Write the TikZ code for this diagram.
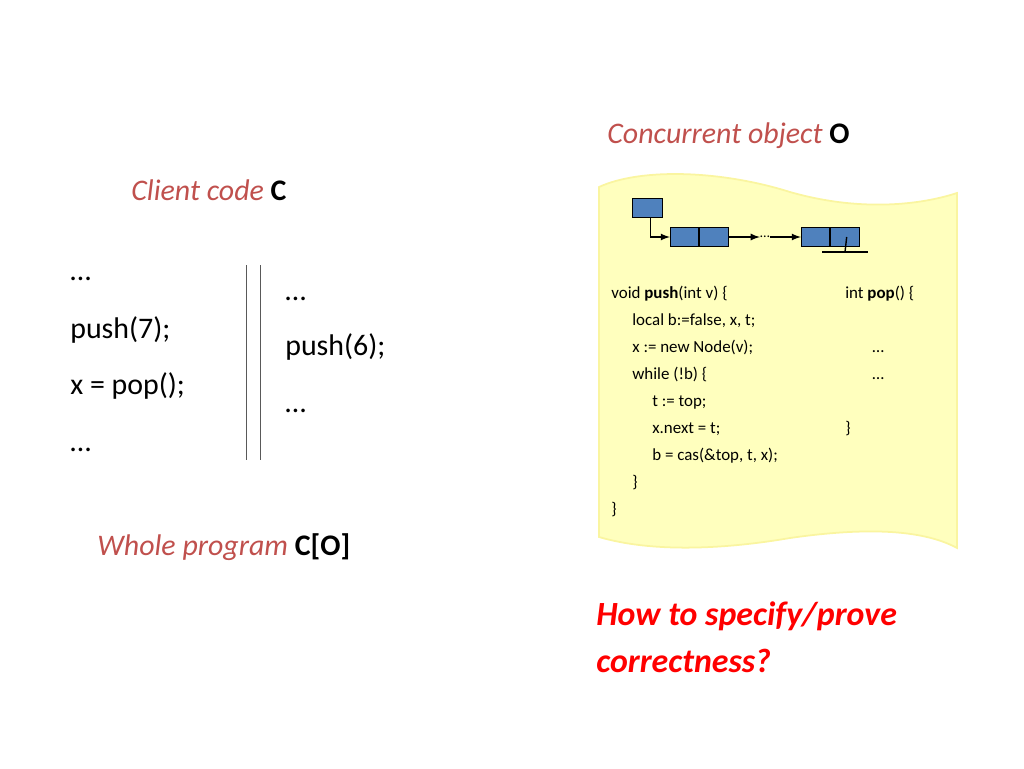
\documentclass[tikz,border=0pt]{standalone}
\usepackage{fontspec}
\setmainfont{Carlito}
\usetikzlibrary{positioning}
\definecolor{titlered}{RGB}{192,80,77}
\definecolor{notepaper}{RGB}{255,255,190}
\definecolor{noteedge}{RGB}{250,245,160}
\definecolor{cellblue}{RGB}{79,129,189}
\newcommand{\px}[1]{\fontsize{\dimexpr0.567pt*#1\relax}{\dimexpr0.68pt*#1\relax}\selectfont}
\begin{document}
\begin{tikzpicture}[x=0.02cm, y=-0.02cm, >=latex,
  title/.style = {anchor=base west, inner sep=0pt, text=titlered, font=\px{30}\itshape},
  client/.style = {anchor=base west, inner sep=0pt, font=\px{30}},
  codeline/.style = {anchor=base west, inner sep=0pt, font=\px{17}},
  cell/.style = {draw=black, fill=cellblue, minimum width=0.57cm, minimum height=0.38cm, inner sep=0pt},
  ]
  \useasboundingbox (0,0) rectangle (1024,768);

  % yellow note
  \fill[notepaper, draw=noteedge, line width=1pt] (599,187)
     .. controls (640,168) and (720,170) .. (790,192)
     .. controls (860,212) and (920,205) .. (957,193)
     -- (957,548)
     .. controls (920,528) and (860,528) .. (790,538)
     .. controls (720,550) and (650,552) .. (599,537) -- cycle;

  % titles
  \node[title] (ctitle) at (131,200) {Client code \upshape\bfseries\color{black}C};
  \node[title] (otitle) at (607,143) {Concurrent object \upshape\bfseries\color{black}O};
  \node[title] (wtitle) at (97,555) {Whole program \upshape\bfseries\color{black}C[O]};
  \node[anchor=base west, inner sep=0pt, text=red, font=\px{34}\bfseries\itshape] (question) at (596,625)
     {How to specify/prove};
  \node[anchor=base west, inner sep=0pt, text=red, font=\px{34}\bfseries\itshape] (question2) at (596,672) {correctness?};

  % client threads
  \node[client] (t1a) at (70,280) {…};
  \node[client] (t1b) at (70,338) {push(7);};
  \node[client] (t1c) at (70,394) {x = pop();};
  \node[client] (t1d) at (70,451) {…};
  \node[client] (t2a) at (285,300) {…};
  \node[client] (t2b) at (285,355) {push(6);};
  \node[client] (t2c) at (285,412) {…};
  \coordinate (bartop) at (246,265);
  \coordinate (barbot) at (246,460);
  \draw[gray!70!black] (bartop) -- (barbot);
  \draw[gray!70!black] ([xshift=8]bartop) -- ([xshift=8]barbot);

  % linked list
  \node[cell, minimum width=0.6cm] (head) at (647,208) {};
  \node[cell] (n1a) at (684.5,237) {};
  \node[cell, right=0pt of n1a] (n1b) {};
  \node[inner sep=0pt, font=\px{14}] (dots) at (765,237) {…};
  \node[cell] (n2a) at (815.5,237) {};
  \node[cell, right=0pt of n2a] (n2b) {};
  \draw[->, thick] (head.south west) ++(19,0) |- (n1a.west);
  \draw[->, thick] (n1b.east) -- (dots.west);
  \draw[->, thick] (dots.east) -- (n2a.west);
  \coordinate (nilend) at (845,252);
  \draw[thick] (n2b.center) ++(2,0) -- ([xshift=0]nilend);
  \draw[thick] ([xshift=-13]nilend) -- ([xshift=13]nilend);

  % code
  \node[codeline] (c1) at (611,298) {void \textbf{push}(int v) \{};
  \node[codeline] (c2) at (632,325) {local b:=false, x, t;};
  \node[codeline] (c3) at (632,352) {x := new Node(v);};
  \node[codeline] (c4) at (632,379) {while (!b) \{};
  \node[codeline] (c5) at (652,406) {t := top;};
  \node[codeline] (c6) at (652,433) {x.next = t;};
  \node[codeline] (c7) at (652,460) {b = cas(\&top, t, x);};
  \node[codeline] (c8) at (632,487) {\}};
  \node[codeline] (c9) at (611,514) {\}};
  \node[codeline] (p1) at (845,298) {int \textbf{pop}() \{};
  \node[codeline] (p2) at (872,352) {…};
  \node[codeline] (p3) at (872,379) {…};
  \node[codeline] (p4) at (845,433) {\}};
\end{tikzpicture}
\end{document}
